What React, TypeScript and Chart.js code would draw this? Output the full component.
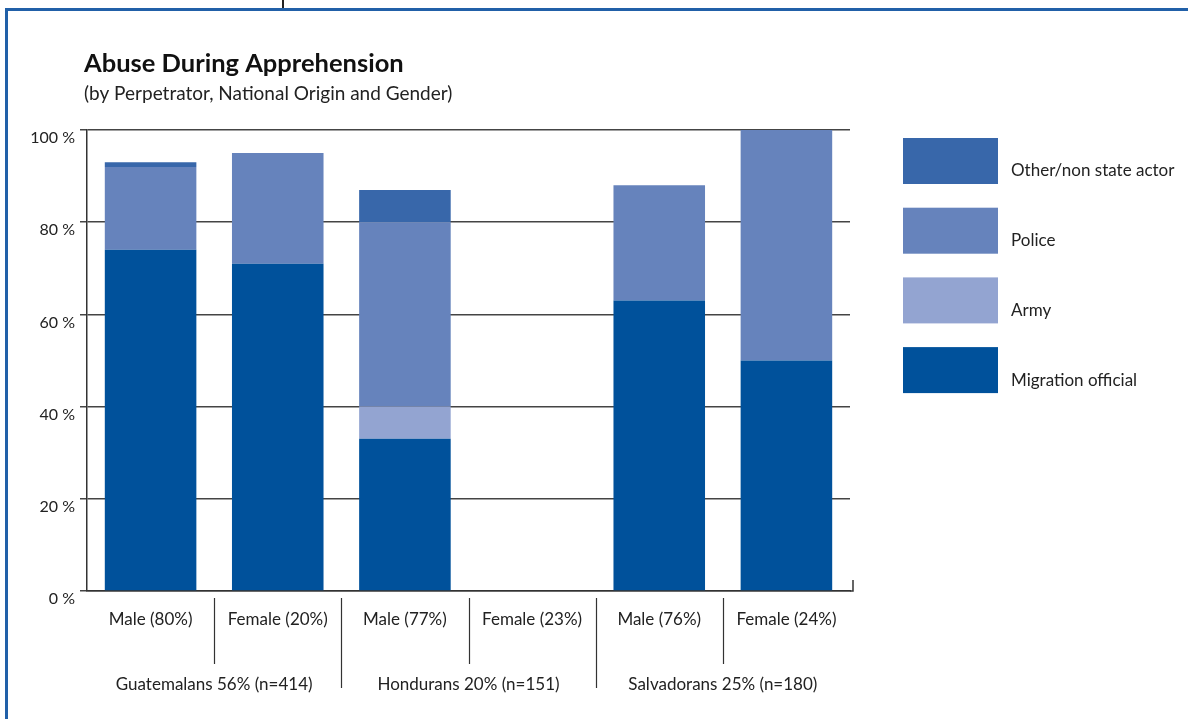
import React, { useEffect, useRef } from 'react';
import { Chart, registerables } from 'chart.js';
Chart.register(...registerables);

const categories = ['Male (80%)', 'Female (20%)', 'Male (77%)', 'Female (23%)', 'Male (76%)', 'Female (24%)'];
const migrationOfficial = [74, 71, 33, 0, 63, 50];
const army = [0, 0, 7, 0, 0, 0];
const police = [18, 24, 40, 0, 25, 50];
const otherActor = [1, 0, 7, 0, 0, 0];
const groups = ['Guatemalans 56% (n=414)', 'Hondurans 20% (n=151)', 'Salvadorans 25% (n=180)'];
const groupSizes = [2, 2, 2];
const titleText = 'Abuse During Apprehension';
const subtitleText = '(by Perpetrator, National Origin and Gender)';

const FONT = 'Lato, "Open Sans", sans-serif';

const decor = {
  id: 'decor',
  beforeDraw(chart: any) {
    const ctx = chart.ctx;
    ctx.save();
    ctx.fillStyle = '#ffffff';
    ctx.fillRect(0, 0, chart.width, chart.height);
    // frame
    ctx.strokeStyle = '#2160a8';
    ctx.lineWidth = 3;
    ctx.beginPath();
    ctx.moveTo(6.5, chart.height + 5);
    ctx.lineTo(6.5, 9.5);
    ctx.lineTo(chart.width + 5, 9.5);
    ctx.stroke();
    ctx.strokeStyle = '#222';
    ctx.lineWidth = 2;
    ctx.beginPath();
    ctx.moveTo(283, 0);
    ctx.lineTo(283, 8);
    ctx.stroke();
    ctx.restore();
  },
  afterDraw(chart: any) {
    const ctx = chart.ctx;
    const xs = chart.scales.x;
    const area = chart.chartArea;
    ctx.save();
    // title
    ctx.fillStyle = '#111';
    ctx.textAlign = 'left';
    ctx.textBaseline = 'alphabetic';
    ctx.font = `bold 25.5px ${FONT}`;
    ctx.fillText(titleText, 84, 72);
    ctx.font = `19px ${FONT}`;
    ctx.fillStyle = '#222';
    ctx.fillText(subtitleText, 84, 100);

    // x axis extension
    ctx.strokeStyle = '#333';
    ctx.lineWidth = 1.5;
    ctx.beginPath();
    ctx.moveTo(area.right, area.bottom);
    ctx.lineTo(area.right + 3, area.bottom);
    ctx.lineTo(area.right + 3, area.bottom - 11);
    ctx.stroke();

    // dividers
    const boundaries: number[] = [];
    let acc = 0;
    groupSizes.forEach((g) => { acc += g; boundaries.push(acc); });
    ctx.lineWidth = 1.2;
    ctx.strokeStyle = '#333';
    for (let i = 0; i < categories.length - 1; i++) {
      const x = Math.round((xs.getPixelForValue(i) + xs.getPixelForValue(i + 1)) / 2) + 0.5;
      const isGroup = boundaries.includes(i + 1);
      ctx.beginPath();
      ctx.moveTo(x, area.bottom + 7);
      ctx.lineTo(x, isGroup ? area.bottom + 97 : area.bottom + 73);
      ctx.stroke();
    }
    // group labels
    ctx.font = `17px ${FONT}`;
    ctx.fillStyle = '#222';
    ctx.textAlign = 'center';
    ctx.textBaseline = 'middle';
    let start = 0;
    groups.forEach((g, gi) => {
      const end = start + groupSizes[gi] - 1;
      const cx = (xs.getPixelForValue(start) + xs.getPixelForValue(end)) / 2;
      ctx.fillText(g, cx, area.bottom + 94);
      start = end + 1;
    });

    // legend
    const ds = chart.data.datasets.slice().reverse();
    ctx.textAlign = 'left';
    ctx.font = `17px ${FONT}`;
    ds.forEach((d: any, i: number) => {
      const top = 138 + i * 69.7;
      ctx.fillStyle = d.backgroundColor;
      ctx.fillRect(903, top, 95, 46);
      ctx.fillStyle = '#222';
      ctx.fillText(d.label, 1011, top + 33);
    });
    ctx.restore();
  },
};

export default function App() {
  const ref = useRef<HTMLCanvasElement>(null);
  useEffect(() => {
    const canvas = ref.current!;
    const chart = new Chart(canvas, {
      type: 'bar',
      data: {
        labels: categories,
        datasets: [
          { label: 'Migration official', data: migrationOfficial, backgroundColor: '#00519b' },
          { label: 'Army', data: army, backgroundColor: '#93a4d1' },
          { label: 'Police', data: police, backgroundColor: '#6683bc' },
          { label: 'Other/non state actor', data: otherActor, backgroundColor: '#3867aa' },
        ],
      },
      options: {
        responsive: false,
        animation: false,
        devicePixelRatio: 1,
        layout: { padding: { left: 0, right: 338, top: 130, bottom: 0 } },
        plugins: { legend: { display: false }, tooltip: { enabled: false } },
        datasets: { bar: { categoryPercentage: 1, barPercentage: 0.72 } },
        scales: {
          x: {
            stacked: true,
            grid: { display: false },
            border: { display: true, color: '#333', width: 1.5 },
            ticks: { font: { family: FONT, size: 17 }, color: '#222', padding: 10, maxRotation: 0, autoSkip: false },
            afterFit: (s: any) => { s.height = 128; },
          },
          y: {
            stacked: true,
            min: 0,
            max: 100,
            ticks: {
              stepSize: 20,
              callback: (v: any) => `${v} %`,
              font: { family: FONT, size: 16 },
              color: '#222',
              padding: 5,
              labelOffset: 8,
            },
            grid: { color: '#444', lineWidth: 1.5, tickLength: 7 },
            border: { color: '#333', width: 1.5 },
            afterFit: (s: any) => { s.width = 87; },
          },
        },
      } as any,
      plugins: [decor],
    });
    return () => chart.destroy();
  }, []);
  return (
    <canvas ref={ref} width={1188} height={719} style={{ position: 'absolute', left: 0, top: 0, width: 1188, height: 719 }} />
  );
}
